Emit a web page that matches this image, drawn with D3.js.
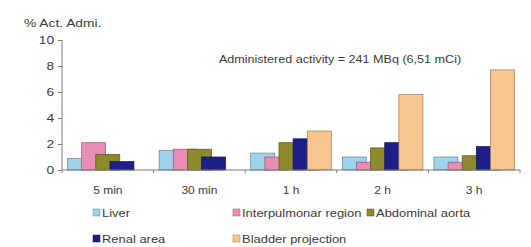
<!DOCTYPE html>
<html>
<head>
<meta charset="utf-8">
<script src="https://cdn.jsdelivr.net/npm/d3@7"></script>
<style>
  body { margin: 0; background: #fff; }
  svg { display: block; font-family: "Liberation Sans", Arial, sans-serif; }
  text { fill: #3a3a3a; }
  .axis path, .axis line { stroke: #7a7a7a; }
</style>
</head>
<body>
<div id="chart"></div>
<script>
var times = ["5 min", "30 min", "1 h", "2 h", "3 h"];
var seriesNames = ["Liver", "Interpulmonar region", "Abdominal aorta", "Renal area", "Bladder projection"];
var liver = [0.9, 1.5, 1.3, 1.0, 1.0];
var interpulmonar = [2.1, 1.6, 1.0, 0.6, 0.6];
var abdominalAorta = [1.2, 1.6, 2.1, 1.7, 1.1];
var renalArea = [0.65, 1.0, 2.4, 2.1, 1.8];
var bladder = [0, 0, 3.0, 5.8, 7.7];
var yTicks = [0, 2, 4, 6, 8, 10];
var colors = ["#9fd3ec", "#e88db4", "#8c8a2c", "#1e1e88", "#f7c690"];

var allValues = [liver, interpulmonar, abdominalAorta, renalArea, bladder];
var width = 531, height = 247;
var sx = 1.2; // reference text looks stretched horizontally

var svg = d3.select('#chart').append('svg')
  .attr('width', width).attr('height', height);

var x = d3.scaleBand().domain(times).range([62, 520]).padding(0);
var y = d3.scaleLinear().domain([0, 10]).range([170, 40]);

var barW = 24, gap = 5.5;
var inner = d3.scalePoint().domain(seriesNames)
  .range([gap, x.bandwidth() - gap - barW]);

// bars, later series painted over earlier ones
seriesNames.forEach(function(name, si) {
  var data = times.map(function(t, i) { return { t: t, v: allValues[si][i] }; })
    .filter(function(d) { return d.v > 0; });
  svg.append('g').selectAll('rect').data(data).enter().append('rect')
    .attr('x', function(d) { return x(d.t) + inner(name); })
    .attr('y', function(d) { return y(d.v); })
    .attr('width', barW)
    .attr('height', function(d) { return y(0) - y(d.v); })
    .attr('fill', colors[si])
    .attr('stroke', d3.color(colors[si]).darker(1.3))
    .attr('stroke-width', 0.7);
});

// y axis
var yAxis = d3.axisLeft(y).tickValues(yTicks).tickSize(4).tickPadding(4);
var yg = svg.append('g').attr('class', 'axis').attr('transform', 'translate(62,0)').call(yAxis);
yg.select('.domain').attr('d', 'M0,' + y(10) + 'V' + y(0));
yg.selectAll('text').attr('font-size', 11.5).attr('x', -6.5)
  .attr('transform', 'scale(' + sx + ',1)');

// x axis: ticks on category boundaries
svg.append('g').attr('class', 'axis')
  .append('line').attr('x1', 62).attr('x2', 520).attr('y1', y(0)).attr('y2', y(0));
var bounds = times.map(function(t) { return x(t); }).concat([x.range()[1]]);
svg.append('g').attr('class', 'axis').selectAll('line.tk').data(bounds).enter().append('line')
  .attr('x1', function(d) { return d; }).attr('x2', function(d) { return d; })
  .attr('y1', y(0)).attr('y2', y(0) + 3);
svg.append('g').selectAll('text').data(times).enter().append('text')
  .attr('transform', function(d) { return 'translate(' + (x(d) + x.bandwidth() / 2) + ',194) scale(' + sx + ',1)'; })
  .attr('text-anchor', 'middle').attr('font-size', 10)
  .text(function(d) { return d; });

// y title and annotation
svg.append('text').attr('transform', 'translate(24,27) scale(' + sx + ',1)')
  .attr('font-size', 11.5).text('% Act. Admi.');
svg.append('text').attr('transform', 'translate(340,63) scale(' + sx + ',1)')
  .attr('text-anchor', 'middle').attr('font-size', 10.5)
  .text('Administered activity = 241 MBq (6,51 mCi)');

// legend
var legendPos = [[93, 213], [233, 213], [367, 213], [93, 239], [233, 239]];
var lg = svg.append('g').selectAll('g').data(seriesNames).enter().append('g')
  .attr('transform', function(d, i) { return 'translate(' + legendPos[i][0] + ',' + legendPos[i][1] + ')'; });
lg.append('rect').attr('x', 0).attr('y', -4).attr('width', 7).attr('height', 7)
  .attr('fill', function(d, i) { return colors[i]; })
  .attr('stroke', function(d, i) { return d3.color(colors[i]).darker(1.3); })
  .attr('stroke-width', 0.5);
lg.append('text').attr('transform', 'translate(9,3.5) scale(' + sx + ',1)')
  .attr('font-size', 10.8).text(function(d) { return d; });
</script>
</body>
</html>
